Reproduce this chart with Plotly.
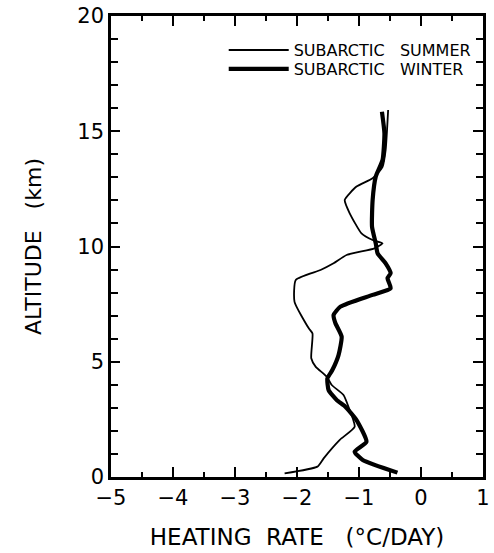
import plotly.graph_objects as go

# Subarctic summer (thin line): heating rate (°C/day) vs altitude (km)
summer_rate = [-2.20, -1.67, -1.57, -1.31, -1.07, -1.17, -1.25, -1.44, -1.52, -1.70, -1.77,
               -1.75, -1.81, -2.04, -2.02, -1.62, -1.41, -1.20, -0.75, -0.62, -0.78, -0.96,
               -1.15, -1.23, -1.04, -0.78, -0.62, -0.57, -0.53]
summer_alt = [0.16, 0.45, 0.81, 1.61, 2.18, 3.05, 3.56, 3.99, 4.35, 4.79, 5.15,
              6.23, 6.45, 7.60, 8.55, 8.98, 9.27, 9.63, 9.92, 10.14, 10.28, 10.57,
              11.44, 12.02, 12.60, 12.96, 13.46, 14.19, 15.92]

# Subarctic winter (thick line)
winter_rate = [-0.38, -0.94, -1.07, -0.88, -1.04, -1.22, -1.36, -1.49, -1.51, -1.43, -1.33,
               -1.28, -1.38, -1.41, -1.30, -0.78, -0.49, -0.54, -0.49, -0.57, -0.70, -0.73,
               -0.79, -0.78, -0.73, -0.62, -0.59, -0.63]
winter_alt = [0.19, 0.74, 1.10, 1.53, 2.47, 3.05, 3.34, 3.77, 4.28, 4.64, 5.29,
              6.09, 6.67, 7.03, 7.39, 7.90, 8.19, 8.62, 8.84, 9.27, 9.70, 10.14,
              10.86, 12.02, 13.03, 13.75, 14.91, 15.85]

series_names = ["SUBARCTIC\u00a0\u00a0\u00a0SUMMER", "SUBARCTIC\u00a0\u00a0\u00a0WINTER"]
x_range = [-5, 1]
y_range = [0, 20]
x_tickvals = [-5, -4, -3, -2, -1, 0, 1]
x_ticktext = ["\u22125", "\u22124", "\u22123", "\u22122", "\u22121", "0", "1"]
y_tickvals = [0, 5, 10, 15, 20]

FONT = "DejaVu Sans"

fig = go.Figure()
fig.add_trace(go.Scatter(x=summer_rate, y=summer_alt, mode="lines", name=series_names[0],
                         legend="legend",
                         line=dict(color="black", width=1.8, shape="spline", smoothing=0.5)))
fig.add_trace(go.Scatter(x=winter_rate, y=winter_alt, mode="lines", name=series_names[1],
                         legend="legend2",
                         line=dict(color="black", width=4.2, shape="spline", smoothing=0.5)))
# invisible trace to activate the mirrored top/right tick axes
fig.add_trace(go.Scatter(x=summer_rate, y=summer_alt, xaxis="x2", yaxis="y2", mode="lines",
                         line=dict(width=0, color="rgba(0,0,0,0)"), showlegend=False,
                         hoverinfo="skip"))

axis_common = dict(showgrid=False, zeroline=False, showline=True, linecolor="black",
                   linewidth=2.5, ticks="inside", tickcolor="black", tickwidth=2,
                   ticklabeloverflow="allow",
                   tickfont=dict(family=FONT, size=21, color="black"))

xminor = dict(dtick=0.5, tick0=0, ticks="inside", ticklen=5, tickwidth=1.5, tickcolor="black")
yminor = dict(dtick=1, tick0=0, ticks="inside", ticklen=7, tickwidth=1.5, tickcolor="black")

fig.update_layout(
    width=494, height=553,
    margin=dict(l=111, r=4, t=16, b=76),
    paper_bgcolor="white", plot_bgcolor="white",
    showlegend=True,
    xaxis=dict(range=x_range, tickvals=x_tickvals, ticktext=x_ticktext, ticklen=10,
               minor=xminor,
               title=dict(text="HEATING\u00a0\u00a0RATE\u00a0\u00a0\u00a0(°C/DAY)",
                          font=dict(family=FONT, size=23, color="black"), standoff=20),
               **axis_common),
    yaxis=dict(range=y_range, tickvals=y_tickvals, ticklen=9, minor=yminor,
               title=dict(text="ALTITUDE\u00a0\u00a0\u00a0(km)",
                          font=dict(family=FONT, size=22, color="black"), standoff=30),
               **axis_common),
    xaxis2=dict(range=x_range, overlaying="x", side="top", tickvals=x_tickvals, ticklen=10,
                minor=xminor, showticklabels=False, showgrid=False, zeroline=False,
                showline=True, linecolor="black", linewidth=2.5, ticks="inside",
                tickcolor="black", tickwidth=2),
    yaxis2=dict(range=y_range, overlaying="y", side="right", tickvals=y_tickvals, ticklen=10,
                minor=yminor, showticklabels=False, showgrid=False, zeroline=False,
                showline=True, linecolor="black", linewidth=2.5, ticks="inside",
                tickcolor="black", tickwidth=2),
    legend=dict(x=0.303, y=0.926, xanchor="left", yanchor="middle", bgcolor="rgba(0,0,0,0)",
                font=dict(family=FONT, size=16, color="black"), itemwidth=60),
    legend2=dict(x=0.303, y=0.885, xanchor="left", yanchor="middle", bgcolor="rgba(0,0,0,0)",
                 font=dict(family=FONT, size=16, color="black"), itemwidth=60),
)

fig.write_html("out.html")
